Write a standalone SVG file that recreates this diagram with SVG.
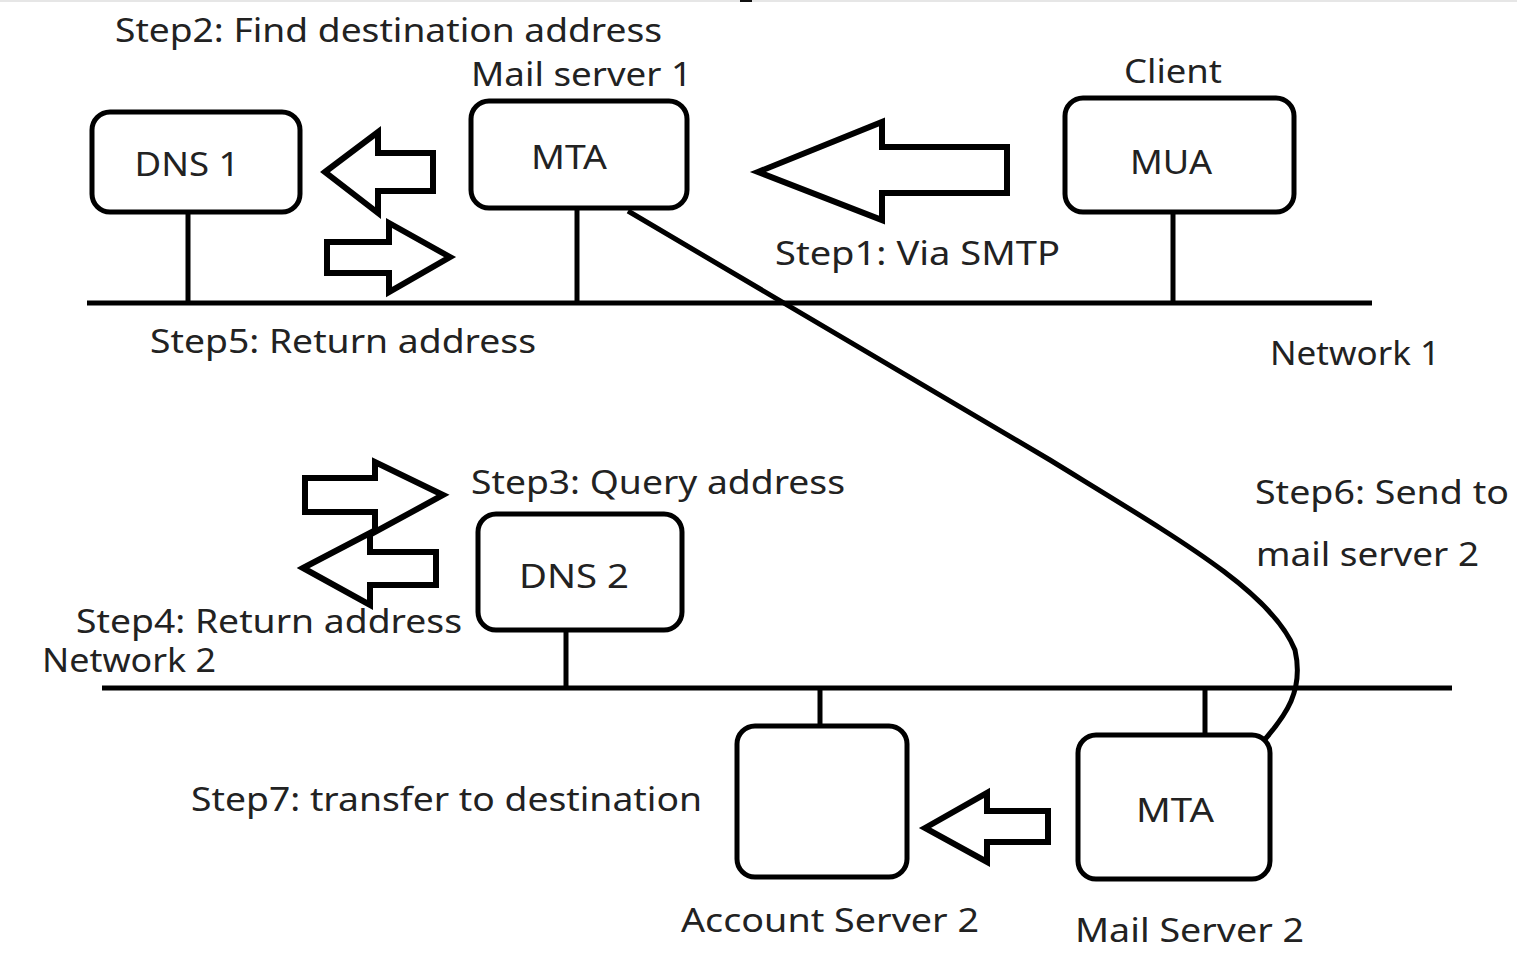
<svg xmlns="http://www.w3.org/2000/svg" width="1517" height="965" viewBox="0 0 1517 965">
<style>
.box{fill:#fff;stroke:#000;stroke-width:5}
.ln{fill:none;stroke:#000;stroke-width:5}
.arr{fill:#fff;stroke:#000;stroke-width:6;stroke-linejoin:miter}
text{font-family:"Noto Sans","Open Sans","DejaVu Sans",sans-serif;font-size:32px;fill:#222}
.c{text-anchor:middle}
</style>
<rect width="1517" height="965" fill="#fff"/>
<rect x="0" y="0" width="1517" height="2" fill="#e6e6e6"/>
<rect x="740" y="0" width="12" height="2" fill="#111"/>

<g id="networks">
<line class="ln" x1="87" y1="303" x2="1372" y2="303"/>
<line class="ln" x1="102" y1="688" x2="1452" y2="688"/>
<text x="1270" y="365" textLength="170" lengthAdjust="spacingAndGlyphs">Network 1</text>
<text x="42" y="672" textLength="174" lengthAdjust="spacingAndGlyphs">Network 2</text>
</g>

<g id="connectors">
<line class="ln" x1="188" y1="212" x2="188" y2="303"/>
<line class="ln" x1="577" y1="208" x2="577" y2="303"/>
<line class="ln" x1="1173" y1="212" x2="1173" y2="303"/>
<line class="ln" x1="566" y1="630" x2="566" y2="688"/>
<line class="ln" x1="820" y1="688" x2="820" y2="736"/>
<line class="ln" x1="1205" y1="688" x2="1205" y2="738"/>
<path class="ln" d="M628,211 L1050,460 C1180,540 1272,592 1295,650 C1304,690 1287,715 1260,745"/>
</g>

<g id="dns1">
<rect class="box" x="92" y="112" width="208" height="100" rx="18"/>
<text x="187" y="176" class="c" textLength="105" lengthAdjust="spacingAndGlyphs">DNS 1</text>
</g>

<g id="mailserver1">
<rect class="box" x="471" y="101" width="216" height="107" rx="18"/>
<text x="569" y="169" class="c" textLength="76" lengthAdjust="spacingAndGlyphs">MTA</text>
<text x="471" y="86" textLength="221" lengthAdjust="spacingAndGlyphs">Mail server 1</text>
</g>

<g id="client">
<rect class="box" x="1065" y="98" width="229" height="114" rx="18"/>
<text x="1171" y="174" class="c" textLength="82" lengthAdjust="spacingAndGlyphs">MUA</text>
<text x="1124" y="83" textLength="98" lengthAdjust="spacingAndGlyphs">Client</text>
</g>

<g id="dns2">
<rect class="box" x="478" y="514" width="204" height="116" rx="18"/>
<text x="574" y="588" class="c" textLength="110" lengthAdjust="spacingAndGlyphs">DNS 2</text>
</g>

<g id="accountserver2">
<rect class="box" x="737" y="726" width="170" height="151" rx="18"/>
<text x="681" y="932" textLength="298" lengthAdjust="spacingAndGlyphs">Account Server 2</text>
</g>

<g id="mailserver2">
<rect class="box" x="1078" y="735" width="192" height="144" rx="18"/>
<text x="1175" y="822" class="c" textLength="78" lengthAdjust="spacingAndGlyphs">MTA</text>
<text x="1075" y="942" textLength="229" lengthAdjust="spacingAndGlyphs">Mail Server 2</text>
</g>

<g id="arrows">
<polygon class="arr" points="325,172 378,132 378,153 433,153 433,191 378,191 378,213"/>
<polygon class="arr" points="450,257 389,223 389,242 327,242 327,273 389,273 389,292"/>
<polygon class="arr" points="758,172 882,122 882,147 1007,147 1007,193 882,193 882,220"/>
<polygon class="arr" points="443,495 375,462 375,478 305,478 305,512 375,512 375,532"/>
<polygon class="arr" points="303,568 370,533 370,552 436,552 436,585 370,585 370,605"/>
<polygon class="arr" points="925,828 987,793 987,811 1048,811 1048,842 987,842 987,862"/>
</g>

<g id="labels">
<text x="115" y="42" textLength="547" lengthAdjust="spacingAndGlyphs">Step2: Find destination address</text>
<text x="775" y="265" textLength="285" lengthAdjust="spacingAndGlyphs">Step1: Via SMTP</text>
<text x="150" y="353" textLength="386" lengthAdjust="spacingAndGlyphs">Step5: Return address</text>
<text x="471" y="494" textLength="374" lengthAdjust="spacingAndGlyphs">Step3: Query address</text>
<text x="1255" y="504" textLength="254" lengthAdjust="spacingAndGlyphs">Step6: Send to</text>
<text x="1256" y="566" textLength="223" lengthAdjust="spacingAndGlyphs">mail server 2</text>
<text x="76" y="633" textLength="386" lengthAdjust="spacingAndGlyphs">Step4: Return address</text>
<text x="191" y="811" textLength="511" lengthAdjust="spacingAndGlyphs">Step7: transfer to destination</text>
</g>
</svg>
